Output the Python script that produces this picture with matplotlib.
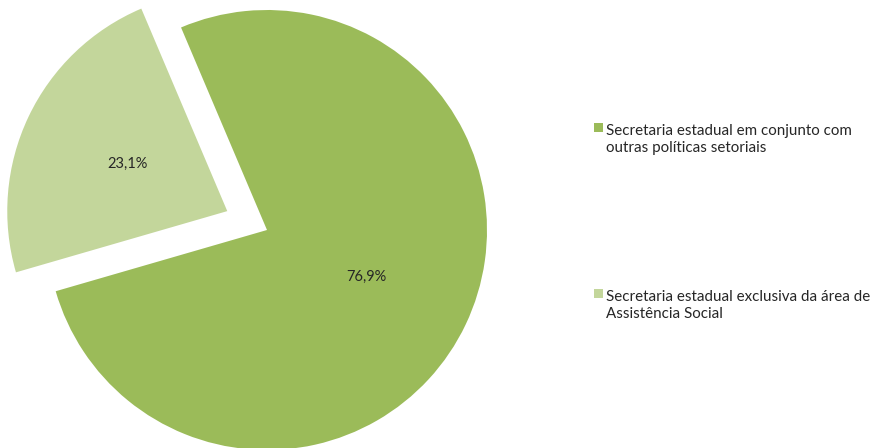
import matplotlib.pyplot as plt
from matplotlib.patches import Rectangle
import numpy as np

# Data
labels = ["Secretaria estadual em conjunto com\noutras políticas setoriais",
          "Secretaria estadual exclusiva da área de\nAssistência Social"]
values = [76.9, 23.1]
pct_labels = ["76,9%", "23,1%"]
colors = ["#9BBB59", "#C3D69B"]
explode = [0, 0.2]

plt.rcParams['font.family'] = ['Lato', 'DejaVu Sans']

W, H = 874, 448
fig = plt.figure(figsize=(W / 100, H / 100), dpi=100)

# pie centre (267, 230) px from top-left, radius 220 px
cx, cy, r = 267, 230, 220
ax_w = 560
ax = fig.add_axes([0, 0, ax_w / W, 1])
wedges, _ = ax.pie(values, colors=colors, explode=explode, startangle=113,
                   counterclock=False, radius=1,
                   wedgeprops=dict(linewidth=0))

# percentage labels at half radius
for w, txt, e in zip(wedges, pct_labels, explode):
    mid = np.deg2rad((w.theta1 + w.theta2) / 2)
    d = 0.5 + e
    ax.text(d * np.cos(mid), d * np.sin(mid), txt, ha='center', va='center',
            fontsize=10.5, color='#262626')

ax.set_xlim(-cx / r, (ax_w - cx) / r)
ax.set_ylim(-(H - cy) / r, cy / r)
ax.set_aspect('auto')
ax.axis('off')

# legend
legend_y = [132, 298]   # baseline of first line (px from top)
for y, lab, c in zip(legend_y, labels, colors):
    fig.patches.append(Rectangle((594 / W, 1 - y / H), 9 / W, 9 / H,
                                 transform=fig.transFigure, color=c, linewidth=0))
    fig.text(606 / W, 1 - (y + 20) / H, lab, ha='left', va='baseline',
             fontsize=10.9, color='#262626', linespacing=1.3)

fig.savefig("out.png", dpi=100)
